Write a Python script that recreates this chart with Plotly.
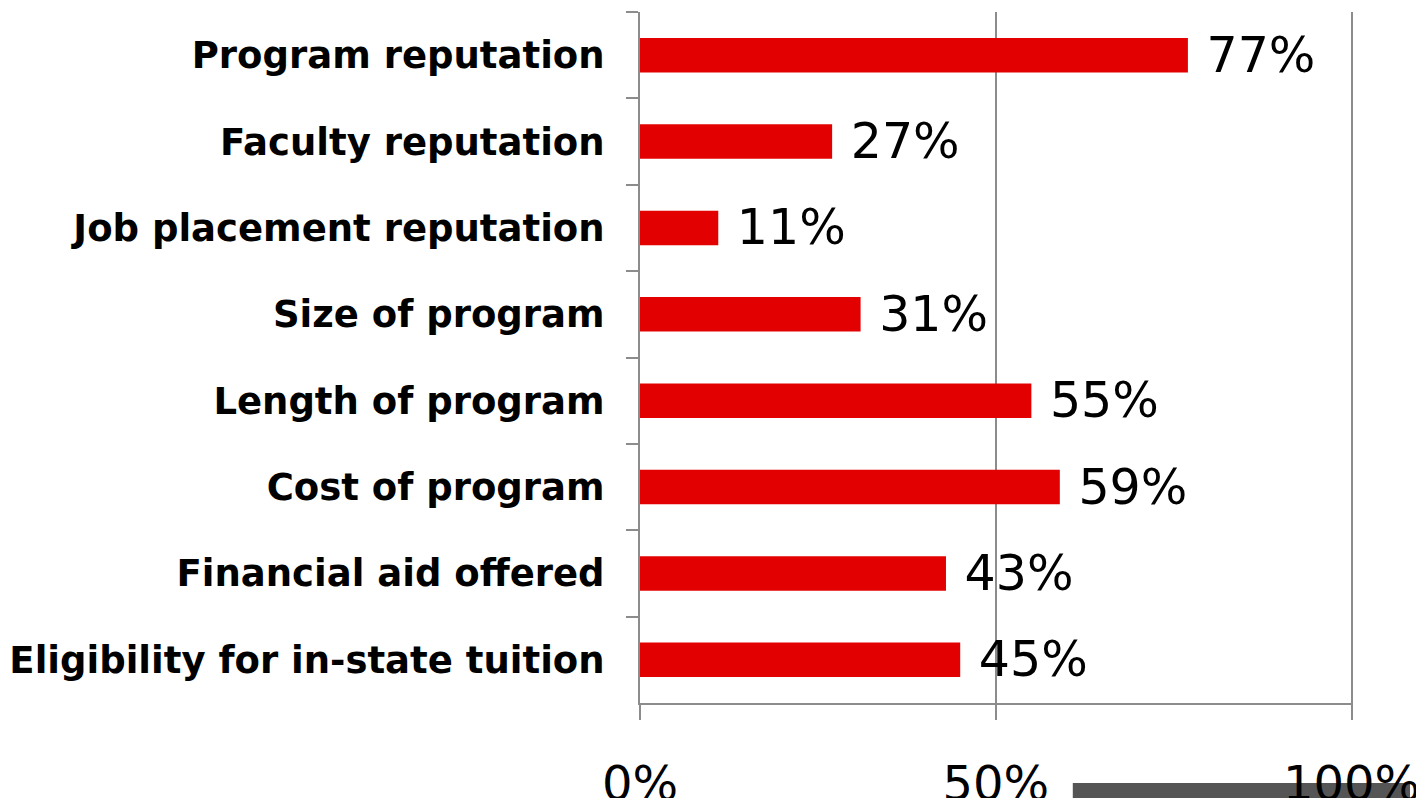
import plotly.graph_objects as go

categories = [
    "Program reputation",
    "Faculty reputation",
    "Job placement reputation",
    "Size of program",
    "Length of program",
    "Cost of program",
    "Financial aid offered",
    "Eligibility for in-state tuition",
]
values = [0.77, 0.27, 0.11, 0.31, 0.55, 0.59, 0.43, 0.45]
x_ticks = [0, 0.5, 1.0]
x_tick_labels = ["0%", "50%", "100%"]

fig = go.Figure(
    go.Bar(
        x=values,
        y=categories,
        orientation="h",
        marker=dict(color="#e20000", line=dict(width=0)),
        text=["\u00a0" + f"{v:.0%}" for v in values],
        textposition="outside",
        constraintext="none",
        cliponaxis=False,
        textfont=dict(family="DejaVu Sans", size=49, color="#000000"),
    )
)

fig.update_layout(
    width=1416,
    height=790,
    margin=dict(l=632, r=71, t=4, b=95, autoexpand=False),
    paper_bgcolor="white",
    plot_bgcolor="white",
    bargap=0.6,
    showlegend=False,
    shapes=[
        dict(
            type="rect", xref="paper", yref="paper",
            x0=0.607, x1=1.08, y0=-0.16, y1=-0.1158,
            fillcolor="#555555", line=dict(width=0), layer="below",
        )
    ],
)

fig.update_xaxes(
    range=[0, 1.002],
    tickvals=x_ticks,
    ticktext=x_tick_labels,
    showgrid=True,
    gridcolor="#8c8c8c",
    gridwidth=2,
    zeroline=False,
    showline=True,
    linecolor="#8c8c8c",
    linewidth=2,
    ticks="outside",
    ticklen=15,
    tickwidth=2,
    tickcolor="#8c8c8c",
    ticklabelstandoff=22,
    automargin=False,
    tickfont=dict(family="DejaVu Sans", size=48, color="#000000"),
)

fig.update_yaxes(
    autorange="reversed",
    showline=True,
    linecolor="#8c8c8c",
    linewidth=2,
    ticks="outside",
    tickson="boundaries",
    ticklen=12,
    tickwidth=2,
    tickcolor="#8c8c8c",
    showgrid=False,
    ticklabelstandoff=26,
    automargin=False,
    tickfont=dict(family="DejaVu Sans", size=37, color="#000000", weight="bold"),
)

fig.write_html("out.html")
